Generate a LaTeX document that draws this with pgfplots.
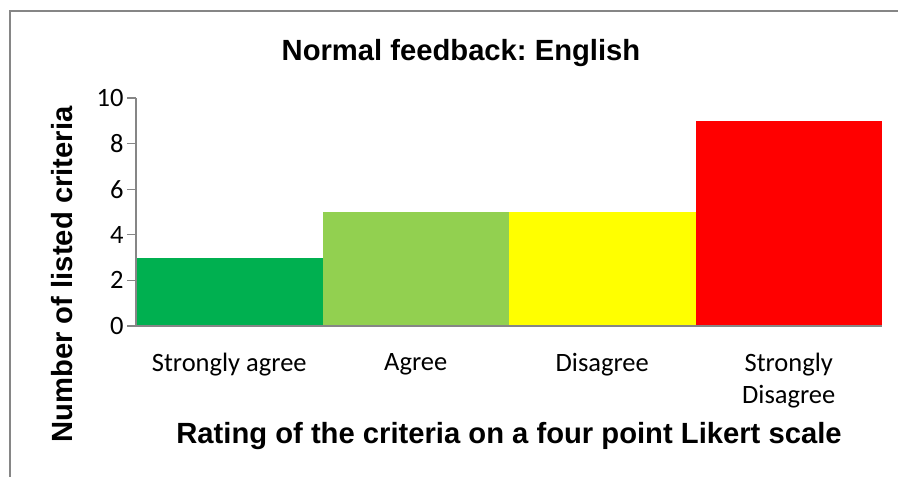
\documentclass[border=0pt]{standalone}
\usepackage{fontspec}
\setmainfont{Carlito}
\newfontfamily\arialfont{Liberation Sans}
\usepackage{pgfplots}
\pgfplotsset{compat=1.18}
\definecolor{axgray}{HTML}{868686}
\definecolor{cSA}{HTML}{00B050}
\definecolor{cA}{HTML}{92D050}
\definecolor{cD}{HTML}{FFFF00}
\definecolor{cSD}{HTML}{FF0000}
\begin{document}
\frenchspacing
\begin{tikzpicture}[x=1bp,y=1bp]
\fill[white] (0,0) rectangle (898,477);
\path[use as bounding box] (0,0) rectangle (898,477);
\fill[axgray] (9.25,0) rectangle (10.75,466.75);
\fill[axgray] (9.25,465.25) rectangle (898,466.75);
\begin{axis}[
  at={(136bp,151bp)}, anchor=south west,
  scale only axis, width=746bp, height=228bp,
  xmin=-0.5, xmax=3.5, ymin=0, ymax=10,
  axis x line*=bottom, axis y line*=left,
  axis line style={axgray, line width=1.3bp},
  axis on top,
  ytick={0,2,4,6,8,10}, xtick={0,1,2,3},
  xticklabels={Strongly agree, Agree, Disagree, {Strongly\\Disagree}},
  tick align=outside, major tick length=9bp,
  xtick style={draw=none},
  ytick style={axgray, line width=1.3bp},
  /pgf/number format/assume math mode=true,
  ticklabel style={font=\fontsize{26.5bp}{31.8bp}\selectfont},
  xticklabel style={anchor=north, inner sep=0pt, align=center, yshift=-18bp},
]
\addplot[ybar, bar width=1, bar shift=0pt, fill=cSA, draw=none] coordinates {(0,3)};
\addplot[ybar, bar width=1, bar shift=0pt, fill=cA, draw=none] coordinates {(1,5)};
\addplot[ybar, bar width=1, bar shift=0pt, fill=cD, draw=none] coordinates {(2,5)};
\addplot[ybar, bar width=1, bar shift=0pt, fill=cSD, draw=none] coordinates {(3,9)};
\end{axis}
\node[font=\arialfont\bfseries\fontsize{29.2bp}{35bp}\selectfont, anchor=base] at (461,416) {Normal feedback: English};
\node[font=\arialfont\bfseries\fontsize{29.2bp}{35bp}\selectfont, anchor=base, rotate=90] at (72,202.5) {Number of listed criteria};
\node[font=\arialfont\bfseries\fontsize{29.2bp}{35bp}\selectfont, anchor=base] at (509,33) {Rating of the criteria on a four point Likert scale};
\end{tikzpicture}
\end{document}
